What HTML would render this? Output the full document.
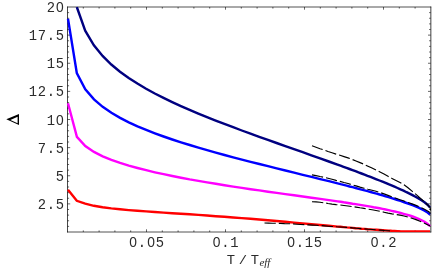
<!DOCTYPE html>
<html><head><meta charset="utf-8"><style>
html,body{margin:0;padding:0;background:#fff;}
svg{display:block;will-change:transform;opacity:0.999}
text{font-family:"Liberation Mono",monospace;font-size:14.4px;fill:#2b2b2b;}
text.z{font-family:"Liberation Sans",sans-serif;}
</style></head><body>
<svg width="436" height="270" viewBox="0 0 436 270">
<rect width="436" height="270" fill="#fff"/>
<g stroke="#000" stroke-width="0.8" fill="none">
<path d="M67.5 6.6V232.4" stroke-width="0.72"/><path d="M430.84999999999997 6.6V232.4" stroke-width="0.75"/><path d="M67.1 7.0H431.2M67.1 232.0H431.2" stroke-width="0.68"/>
<path d="M83.30 232.0v-1.6M83.30 7.0v1.6M99.10 232.0v-1.6M99.10 7.0v1.6M114.90 232.0v-1.6M114.90 7.0v1.6M130.70 232.0v-1.6M130.70 7.0v1.6M146.50 232.0v-2.7M146.50 7.0v2.7M162.30 232.0v-1.6M162.30 7.0v1.6M178.10 232.0v-1.6M178.10 7.0v1.6M193.90 232.0v-1.6M193.90 7.0v1.6M209.70 232.0v-1.6M209.70 7.0v1.6M225.50 232.0v-2.7M225.50 7.0v2.7M241.30 232.0v-1.6M241.30 7.0v1.6M257.10 232.0v-1.6M257.10 7.0v1.6M272.90 232.0v-1.6M272.90 7.0v1.6M288.70 232.0v-1.6M288.70 7.0v1.6M304.50 232.0v-2.7M304.50 7.0v2.7M320.30 232.0v-1.6M320.30 7.0v1.6M336.10 232.0v-1.6M336.10 7.0v1.6M351.90 232.0v-1.6M351.90 7.0v1.6M367.70 232.0v-1.6M367.70 7.0v1.6M383.50 232.0v-2.7M383.50 7.0v2.7M399.30 232.0v-1.6M399.30 7.0v1.6M415.10 232.0v-1.6M415.10 7.0v1.6M67.5 226.38h1.6M430.7 226.38h-1.6M67.5 220.75h1.6M430.7 220.75h-1.6M67.5 215.12h1.6M430.7 215.12h-1.6M67.5 209.50h1.6M430.7 209.50h-1.6M67.5 203.88h2.7M430.7 203.88h-2.7M67.5 198.25h1.6M430.7 198.25h-1.6M67.5 192.62h1.6M430.7 192.62h-1.6M67.5 187.00h1.6M430.7 187.00h-1.6M67.5 181.38h1.6M430.7 181.38h-1.6M67.5 175.75h2.7M430.7 175.75h-2.7M67.5 170.12h1.6M430.7 170.12h-1.6M67.5 164.50h1.6M430.7 164.50h-1.6M67.5 158.88h1.6M430.7 158.88h-1.6M67.5 153.25h1.6M430.7 153.25h-1.6M67.5 147.62h2.7M430.7 147.62h-2.7M67.5 142.00h1.6M430.7 142.00h-1.6M67.5 136.38h1.6M430.7 136.38h-1.6M67.5 130.75h1.6M430.7 130.75h-1.6M67.5 125.12h1.6M430.7 125.12h-1.6M67.5 119.50h2.7M430.7 119.50h-2.7M67.5 113.88h1.6M430.7 113.88h-1.6M67.5 108.25h1.6M430.7 108.25h-1.6M67.5 102.62h1.6M430.7 102.62h-1.6M67.5 97.00h1.6M430.7 97.00h-1.6M67.5 91.38h2.7M430.7 91.38h-2.7M67.5 85.75h1.6M430.7 85.75h-1.6M67.5 80.12h1.6M430.7 80.12h-1.6M67.5 74.50h1.6M430.7 74.50h-1.6M67.5 68.88h1.6M430.7 68.88h-1.6M67.5 63.25h2.7M430.7 63.25h-2.7M67.5 57.62h1.6M430.7 57.62h-1.6M67.5 52.00h1.6M430.7 52.00h-1.6M67.5 46.38h1.6M430.7 46.38h-1.6M67.5 40.75h1.6M430.7 40.75h-1.6M67.5 35.12h2.7M430.7 35.12h-2.7M67.5 29.50h1.6M430.7 29.50h-1.6M67.5 23.88h1.6M430.7 23.88h-1.6M67.5 18.25h1.6M430.7 18.25h-1.6M67.5 12.62h1.6M430.7 12.62h-1.6" stroke-width="0.6"/>
</g>
<clipPath id="c"><rect x="60" y="6.8" width="371.2" height="225.4"/></clipPath>
<g fill="none" stroke-linejoin="miter" stroke-linecap="butt" stroke-width="2.4" clip-path="url(#c)">
<polyline points="68.0,189.7 76.8,200.8 85.2,203.7 93.9,205.8 102.6,207.3 111.3,208.4 120.0,209.3 128.7,210.1 137.4,210.8 146.1,211.4 154.8,212.0 163.5,212.6 172.2,213.2 180.9,213.8 189.6,214.3 198.3,214.9 207.0,215.5 215.7,216.2 224.4,216.8 233.1,217.5 241.8,218.1 250.5,218.8 259.2,219.5 267.9,220.3 276.6,221.0 285.3,221.8 294.0,222.6 302.7,223.4 311.4,224.2 320.1,225.0 328.8,225.8 337.5,226.6 340.5,226.8 343.5,227.1 346.5,227.4 349.5,227.6 352.5,227.9 355.5,228.2 358.5,228.4 361.5,228.7 364.5,228.9 367.5,229.2 370.5,229.4 373.5,229.6 376.5,229.8 379.5,230.0 382.5,230.2 385.5,230.4 388.5,230.6 391.5,230.8 394.5,230.9 397.5,231.1 398.0,231.1 401.0,231.4 430.0,231.4" stroke="#ff0000"/>
<polyline points="68.0,103.3 76.9,136.9 85.3,146.0 94.0,151.9 102.7,156.3 111.4,159.8 120.1,162.9 128.8,165.6 137.5,168.0 146.2,170.2 154.9,172.3 163.6,174.2 172.3,176.0 181.0,177.7 189.7,179.4 198.4,180.9 207.1,182.4 215.8,183.8 224.5,185.2 233.2,186.6 241.9,187.9 250.6,189.2 259.3,190.4 268.0,191.7 276.7,192.9 285.4,194.1 294.1,195.3 302.8,196.5 311.5,197.7 320.2,198.9 328.9,200.1 337.6,201.4 340.6,201.8 343.6,202.3 346.6,202.7 349.6,203.2 352.6,203.7 355.6,204.1 358.6,204.6 361.6,205.1 364.6,205.6 367.6,206.1 370.6,206.6 373.6,207.2 376.6,207.7 379.6,208.3 382.6,208.9 385.6,209.5 388.6,210.1 391.6,210.8 394.6,211.5 397.6,212.2 400.6,213.0 403.6,213.8 406.6,214.6 409.6,215.5 412.6,216.5 415.6,217.6 418.6,218.8 421.6,220.2 424.6,221.8 427.6,223.9 430.0,226.1" stroke="#ff00ff"/>
<polyline points="68.0,18.7 76.8,73.0 85.3,89.2 94.0,99.4 102.7,106.8 111.4,112.8 120.1,117.9 128.8,122.3 137.5,126.3 146.2,129.9 154.9,133.3 163.6,136.5 172.3,139.5 181.0,142.3 189.7,145.0 198.4,147.6 207.1,150.1 215.8,152.6 224.5,155.0 233.2,157.3 241.9,159.6 250.6,161.8 259.3,164.0 268.0,166.2 276.7,168.4 285.4,170.5 294.1,172.7 302.8,174.8 311.5,176.9 320.2,179.1 328.9,181.2 337.6,183.4 340.6,184.2 343.6,184.9 346.6,185.7 349.6,186.5 352.6,187.2 355.6,188.0 358.6,188.8 361.6,189.6 364.6,190.4 367.6,191.2 370.6,192.0 373.6,192.9 376.6,193.7 379.6,194.5 382.6,195.4 385.6,196.3 388.6,197.2 391.6,198.1 394.6,199.0 397.6,200.0 400.6,200.9 403.6,202.0 406.6,203.0 409.6,204.1 412.6,205.2 415.6,206.4 418.6,207.7 421.6,209.1 424.6,210.7 427.6,212.6 430.0,214.6" stroke="#0000ff"/>
<polyline points="76.8,7.0 85.2,30.7 93.9,45.3 102.6,55.9 111.3,64.5 120.0,71.7 128.7,78.0 137.4,83.6 146.1,88.7 154.8,93.5 163.5,97.9 172.2,102.1 180.9,106.1 189.6,109.9 198.3,113.6 207.0,117.1 215.7,120.6 224.4,123.9 233.1,127.2 241.8,130.5 250.5,133.7 259.2,136.8 267.9,139.9 276.6,143.0 285.3,146.1 294.0,149.2 302.7,152.2 311.4,155.3 320.1,158.4 328.8,161.5 337.5,164.6 340.5,165.7 343.5,166.8 346.5,167.9 349.5,169.0 352.5,170.1 355.5,171.2 358.5,172.4 361.5,173.5 364.5,174.6 367.5,175.8 370.5,176.9 373.5,178.1 376.5,179.3 379.5,180.5 382.5,181.7 385.5,182.9 388.5,184.2 391.5,185.4 394.5,186.7 397.5,188.0 400.5,189.4 403.5,190.7 406.5,192.2 409.5,193.6 412.5,195.1 415.5,196.7 418.5,198.4 421.5,200.3 424.5,202.3 427.5,204.7 430.0,207.5" stroke="#000080"/>
</g>
<g fill="none" stroke="#000" stroke-width="1.15" stroke-dasharray="11.3 3" clip-path="url(#c)">
<polyline points="312.0,145.8 316.0,147.2 320.0,148.7 324.0,150.0 328.0,151.5 332.0,152.8 336.0,154.1 340.0,155.3 344.0,156.6 348.0,157.9 352.0,159.4 356.0,161.0 360.0,162.6 364.0,164.3 368.0,166.2 372.0,168.0 376.0,170.0 380.0,172.0 384.0,174.1 388.0,176.3 392.0,178.4 396.0,180.4 400.0,182.4 404.0,184.8 408.0,187.7 412.0,191.1 416.0,194.4 420.0,197.9 424.0,201.5 428.0,205.3 430.0,207.2 430.6,210.5"/>
<polyline points="312.0,174.9 316.0,175.6 320.0,176.5 324.0,177.3 328.0,178.3 332.0,179.3 336.0,180.4 340.0,181.4 344.0,182.5 348.0,183.5 352.0,184.7 356.0,185.9 360.0,187.1 364.0,188.2 368.0,189.3 372.0,190.2 376.0,191.3 380.0,192.5 384.0,193.9 388.0,195.4 392.0,196.9 396.0,198.3 400.0,199.7 404.0,201.0 408.0,202.5 412.0,203.9 416.0,205.4 420.0,207.0 424.0,208.9 428.0,211.2 430.0,212.5 430.6,216.5"/>
<polyline points="312.0,201.7 316.0,201.9 320.0,202.3 324.0,202.8 328.0,203.5 332.0,204.1 336.0,204.6 340.0,205.0 344.0,205.5 348.0,206.0 352.0,206.5 356.0,207.1 360.0,207.8 364.0,208.4 368.0,209.1 372.0,209.8 376.0,210.5 380.0,211.3 384.0,212.2 388.0,213.1 392.0,213.9 396.0,214.5 400.0,215.1 404.0,216.0 408.0,217.1 412.0,218.2 416.0,219.6 420.0,221.3 424.0,223.1 428.0,224.9 430.0,225.8"/>
<polyline points="264.5,223.0 268.5,223.1 272.5,223.2 276.5,223.3 280.5,223.4 284.5,223.6 288.5,223.7 292.5,223.9 296.5,224.2 300.5,224.5 304.5,224.7 308.5,224.9 312.5,225.1 316.5,225.3 320.5,225.6 324.5,225.9 328.5,226.2 332.5,226.5 336.5,226.8 340.5,227.0 344.5,227.2 348.5,227.5 352.5,227.9 356.5,228.2 360.5,228.6 364.5,228.9 368.5,229.2 372.5,229.5 376.5,229.8 380.5,230.1 384.5,230.5 388.5,230.8 391.5,231.0"/>
</g>
<g>
<text transform="translate(50.90 12.0) scale(0.96 1)" text-anchor="middle">2</text><text class="z" transform="translate(59.90 12.0) scale(0.96 1)" text-anchor="middle">0</text><text transform="translate(32.90 40.1) scale(0.96 1)" text-anchor="middle">1</text><text transform="translate(41.90 40.1) scale(0.96 1)" text-anchor="middle">7</text><text transform="translate(50.90 40.1) scale(0.96 1)" text-anchor="middle">.</text><text transform="translate(59.90 40.1) scale(0.96 1)" text-anchor="middle">5</text><text transform="translate(50.90 68.2) scale(0.96 1)" text-anchor="middle">1</text><text transform="translate(59.90 68.2) scale(0.96 1)" text-anchor="middle">5</text><text transform="translate(32.90 96.4) scale(0.96 1)" text-anchor="middle">1</text><text transform="translate(41.90 96.4) scale(0.96 1)" text-anchor="middle">2</text><text transform="translate(50.90 96.4) scale(0.96 1)" text-anchor="middle">.</text><text transform="translate(59.90 96.4) scale(0.96 1)" text-anchor="middle">5</text><text transform="translate(50.90 124.5) scale(0.96 1)" text-anchor="middle">1</text><text class="z" transform="translate(59.90 124.5) scale(0.96 1)" text-anchor="middle">0</text><text transform="translate(41.90 152.6) scale(0.96 1)" text-anchor="middle">7</text><text transform="translate(50.90 152.6) scale(0.96 1)" text-anchor="middle">.</text><text transform="translate(59.90 152.6) scale(0.96 1)" text-anchor="middle">5</text><text transform="translate(59.90 180.8) scale(0.96 1)" text-anchor="middle">5</text><text transform="translate(41.90 208.9) scale(0.96 1)" text-anchor="middle">2</text><text transform="translate(50.90 208.9) scale(0.96 1)" text-anchor="middle">.</text><text transform="translate(59.90 208.9) scale(0.96 1)" text-anchor="middle">5</text><text class="z" transform="translate(133.00 247.0) scale(0.96 1)" text-anchor="middle">0</text><text transform="translate(142.00 247.0) scale(0.96 1)" text-anchor="middle">.</text><text class="z" transform="translate(151.00 247.0) scale(0.96 1)" text-anchor="middle">0</text><text transform="translate(160.00 247.0) scale(0.96 1)" text-anchor="middle">5</text><text class="z" transform="translate(216.50 247.0) scale(0.96 1)" text-anchor="middle">0</text><text transform="translate(225.50 247.0) scale(0.96 1)" text-anchor="middle">.</text><text transform="translate(234.50 247.0) scale(0.96 1)" text-anchor="middle">1</text><text class="z" transform="translate(291.00 247.0) scale(0.96 1)" text-anchor="middle">0</text><text transform="translate(300.00 247.0) scale(0.96 1)" text-anchor="middle">.</text><text transform="translate(309.00 247.0) scale(0.96 1)" text-anchor="middle">1</text><text transform="translate(318.00 247.0) scale(0.96 1)" text-anchor="middle">5</text><text class="z" transform="translate(374.50 247.0) scale(0.96 1)" text-anchor="middle">0</text><text transform="translate(383.50 247.0) scale(0.96 1)" text-anchor="middle">.</text><text transform="translate(392.50 247.0) scale(0.96 1)" text-anchor="middle">2</text><text transform="translate(231.0 263.5) scale(0.96 0.85)" text-anchor="middle">T</text><text transform="translate(242.8 263.5) scale(0.96 0.85)" text-anchor="middle">/</text><text transform="translate(254.9 263.5) scale(0.96 0.85)" text-anchor="middle">T</text>
<text x="259.4" y="266.4" style="font-family:'Liberation Serif',serif;font-style:italic;font-size:11px">eff</text>
</g>
<path d="M6.3 119.3 L19 113.9 L19 124.9 Z M10.4 119.9 L17.6 116.8 L17.6 123.2 Z" fill="#000" fill-rule="evenodd"/>
</svg>
</body></html>
